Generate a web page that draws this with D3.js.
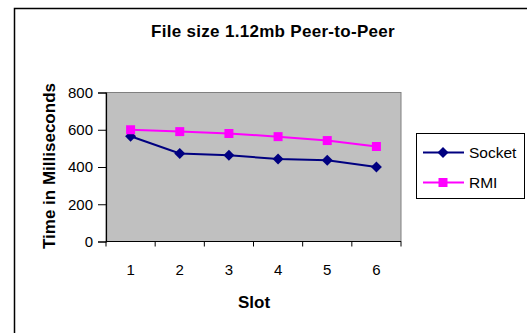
<!DOCTYPE html>
<html lang="en">
<head>
<meta charset="UTF-8">
<script src="https://d3js.org/d3.v7.min.js"></script>
<style>
  body { margin: 0; background: #fff; }
  text { font-family: "Liberation Sans", Arial, sans-serif; }
</style>
</head>
<body>
<svg width="527" height="333"></svg>
<script>
// chart data
var slots = ["1", "2", "3", "4", "5", "6"];
var socketTimes = [565, 473, 463, 443, 436, 400];
var rmiTimes = [600, 590, 580, 563, 542, 510];
var yTicks = [0, 200, 400, 600, 800];

var svg = d3.select("svg");

// outer chart frame (runs off right and bottom edges)
svg.append("rect")
    .attr("x", 14.5).attr("y", 8.5)
    .attr("width", 540).attr("height", 340)
    .attr("fill", "#fff").attr("stroke", "#000").attr("stroke-width", 1.5);

var plot = {left: 106, top: 92.5, right: 401, bottom: 241.5};

var x = d3.scaleBand().domain(slots).range([plot.left, plot.right]);
var y = d3.scaleLinear().domain([0, 800]).range([plot.bottom, plot.top]);

// plot area
svg.append("rect")
    .attr("x", plot.left).attr("y", plot.top)
    .attr("width", plot.right - plot.left).attr("height", plot.bottom - plot.top)
    .attr("fill", "#c0c0c0").attr("stroke", "#808080").attr("stroke-width", 1);

// y axis
var yAxis = svg.append("g")
    .attr("transform", "translate(" + plot.left + ",0)")
    .call(d3.axisLeft(y).tickValues(yTicks).tickSize(8).tickPadding(5));
yAxis.select(".domain").attr("stroke", "#000").attr("stroke-width", 1.2);
yAxis.selectAll("line").attr("stroke", "#000");
yAxis.selectAll("text").attr("font-size", 15).attr("fill", "#000");

// x axis: ticks at category boundaries
var xAxisG = svg.append("g");
xAxisG.append("line")
    .attr("x1", plot.left).attr("x2", plot.right)
    .attr("y1", plot.bottom).attr("y2", plot.bottom)
    .attr("stroke", "#000").attr("stroke-width", 1.2);
var bounds = slots.map(function(s) { return x(s); }).concat([plot.right]);
xAxisG.selectAll(".xt").data(bounds).enter().append("line")
    .attr("x1", function(d) { return d; }).attr("x2", function(d) { return d; })
    .attr("y1", plot.bottom).attr("y2", plot.bottom + 5)
    .attr("stroke", "#000");
xAxisG.selectAll(".xl").data(slots).enter().append("text")
    .attr("x", function(d) { return x(d) + x.bandwidth() / 2; })
    .attr("y", 275)
    .attr("text-anchor", "middle")
    .attr("font-size", 15)
    .text(function(d) { return d; });

// series; diamond = square turned 45deg
var series = [
    {name: "Socket", values: socketTimes, color: "#000080", size: 60, rot: 45},
    {name: "RMI", values: rmiTimes, color: "#ff00ff", size: 81, rot: 0}
];

var line = d3.line()
    .x(function(d, i) { return x(slots[i]) + x.bandwidth() / 2; })
    .y(function(d) { return y(d); });

series.forEach(function(s) {
    svg.append("path")
        .attr("d", line(s.values))
        .attr("fill", "none")
        .attr("stroke", s.color)
        .attr("stroke-width", 2);
    svg.selectAll(null).data(s.values).enter().append("path")
        .attr("d", d3.symbol().type(d3.symbolSquare).size(s.size))
        .attr("transform", function(d, i) {
            return "translate(" + (x(slots[i]) + x.bandwidth() / 2) + "," + y(d) + ") rotate(" + s.rot + ")";
        })
        .attr("fill", s.color);
});

// title and axis labels
svg.append("text")
    .attr("x", 273).attr("y", 37)
    .attr("text-anchor", "middle")
    .attr("font-size", 17).attr("font-weight", "bold")
    .attr("letter-spacing", 0.3)
    .text("File size 1.12mb Peer-to-Peer");

svg.append("text")
    .attr("transform", "translate(55,166) rotate(-90)")
    .attr("text-anchor", "middle")
    .attr("font-size", 17).attr("font-weight", "bold")
    .text("Time in Milliseconds");

svg.append("text")
    .attr("x", 254).attr("y", 308)
    .attr("text-anchor", "middle")
    .attr("font-size", 17).attr("font-weight", "bold")
    .text("Slot");

// legend
var legend = svg.append("g");
legend.append("rect")
    .attr("x", 416.5).attr("y", 133.5)
    .attr("width", 108).attr("height", 65)
    .attr("fill", "#fff").attr("stroke", "#000").attr("stroke-width", 1);
series.forEach(function(s, i) {
    var ly = 152.5 + i * 30;
    legend.append("line")
        .attr("x1", 423).attr("x2", 464)
        .attr("y1", ly).attr("y2", ly)
        .attr("stroke", s.color).attr("stroke-width", 2);
    legend.append("path")
        .attr("d", d3.symbol().type(d3.symbolSquare).size(s.size))
        .attr("transform", "translate(443," + ly + ") rotate(" + s.rot + ")")
        .attr("fill", s.color);
    legend.append("text")
        .attr("x", 469).attr("y", ly + 5.5)
        .attr("font-size", 15.5)
        .text(s.name);
});
</script>
</body>
</html>
